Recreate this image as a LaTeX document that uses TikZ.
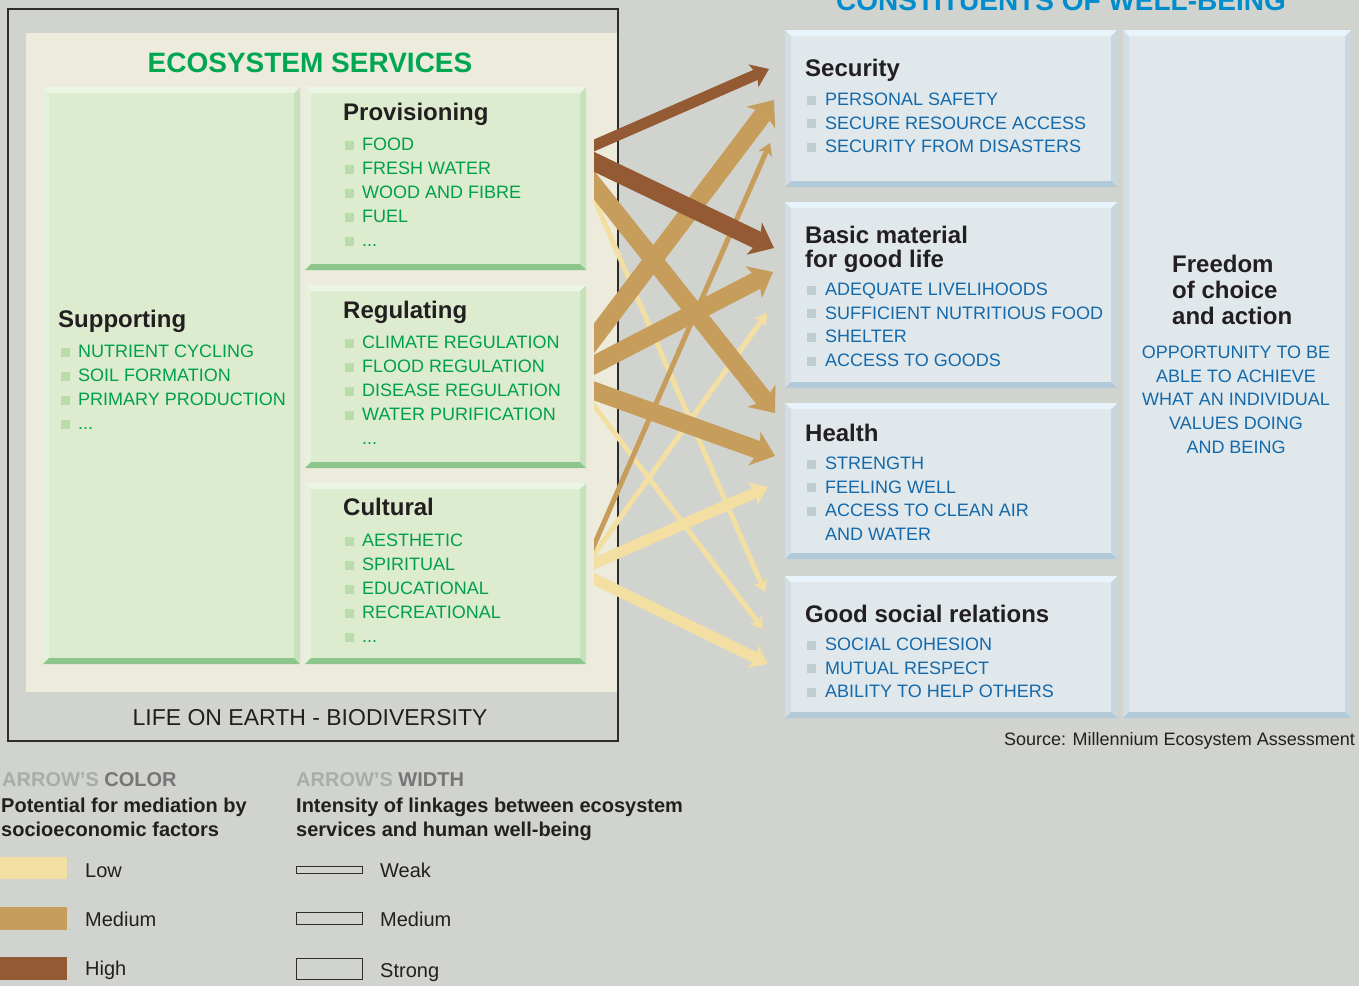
\documentclass[tikz,border=0pt]{standalone}
\usepackage{fontspec}
\setmainfont{Liberation Sans}
\usetikzlibrary{arrows.meta,positioning,calc}
\definecolor{bggray}{RGB}{209,211,207}
\definecolor{beige}{RGB}{236,235,220}
\definecolor{framegray}{RGB}{45,45,45}
\definecolor{gfill}{RGB}{221,236,207}
\definecolor{gtop}{RGB}{234,245,227}
\definecolor{gbot}{RGB}{140,198,140}
\definecolor{gleft}{RGB}{228,241,220}
\definecolor{gright}{RGB}{198,226,188}
\definecolor{gbullet}{RGB}{186,220,170}
\definecolor{gtext}{RGB}{0,160,75}
\definecolor{ecogreen}{RGB}{0,166,81}
\definecolor{bfill}{RGB}{224,232,236}
\definecolor{btop}{RGB}{232,244,251}
\definecolor{bbot}{RGB}{178,201,216}
\definecolor{bleft}{RGB}{210,222,228}
\definecolor{bright}{RGB}{200,214,222}
\definecolor{bbullet}{RGB}{190,205,210}
\definecolor{btext}{RGB}{20,105,170}
\definecolor{wbblue}{RGB}{0,140,205}
\definecolor{headtxt}{RGB}{35,31,32}
\definecolor{lowc}{RGB}{242,223,161}
\definecolor{medc}{RGB}{199,157,91}
\definecolor{highc}{RGB}{147,90,51}
\definecolor{legl}{RGB}{170,172,170}
\definecolor{legd}{RGB}{118,118,118}

\newcommand{\gsq}{\textcolor{gbullet}{\rule[1pt]{9pt}{9pt}}\hspace{8pt}}
\newcommand{\bsq}{\textcolor{bbullet}{\rule[1pt]{9pt}{9pt}}\hspace{9pt}}

\tikzset{
  bevel/.style n args={5}{draw=none, fill=#1, inner sep=0pt, outer sep=0pt, anchor=north west,
    path picture={
      \coordinate (pnw) at (path picture bounding box.north west);
      \coordinate (pne) at (path picture bounding box.north east);
      \coordinate (psw) at (path picture bounding box.south west);
      \coordinate (pse) at (path picture bounding box.south east);
      \fill[#4] (pnw) -- ([shift={(6pt,-6pt)}]pnw) -- ([shift={(6pt,6pt)}]psw) -- (psw) -- cycle;
      \fill[#5] (pne) -- ([shift={(-6pt,-6pt)}]pne) -- ([shift={(-6pt,6pt)}]pse) -- (pse) -- cycle;
      \fill[#2] (pnw) -- (pne) -- ([shift={(-6pt,-6pt)}]pne) -- ([shift={(6pt,-6pt)}]pnw) -- cycle;
      \fill[#3] (psw) -- (pse) -- ([shift={(-6pt,6pt)}]pse) -- ([shift={(6pt,6pt)}]psw) -- cycle;
    }},
}

\begin{document}
\begin{tikzpicture}[x=1pt, y=-1pt,
    gbox/.style={bevel={gfill}{gtop}{gbot}{gleft}{gright}},
    bbox/.style={bevel={bfill}{btop}{bbot}{bleft}{bright}},
    head/.style={inner sep=0pt, anchor=base west, text=headtxt, font=\fontsize{24}{24}\selectfont\bfseries},
    glist/.style={inner sep=0pt, anchor=north west, align=left, text=gtext, font=\fontsize{18}{24}\selectfont},
    blist/.style={inner sep=0pt, anchor=north west, align=left, text=btext, font=\fontsize{18}{23.6}\selectfont},
    legtxt/.style={inner sep=0pt, anchor=base west, text=headtxt, font=\fontsize{20}{24}\selectfont},
    flow/.style={line cap=butt},
    wstrong/.style={flow, line width=18pt, -{Stealth[length=22pt, width=36pt, inset=6pt, line width=0pt]}},
    wmedium/.style={flow, line width=11pt, -{Stealth[length=17pt, width=25pt, inset=4pt, line width=0pt]}},
    wweak/.style={flow, line width=5pt, -{Stealth[length=12pt, width=15pt, inset=3pt, line width=0pt]}},
    clow/.style={draw=lowc, color=lowc},
    cmed/.style={draw=medc, color=medc},
    chigh/.style={draw=highc, color=highc}
]

% Background
\useasboundingbox (0,0) rectangle (1359,986);
\fill[bggray] (0,0) rectangle (1359,986);

% === Ecosystem services ===
\fill[beige] (26,33) rectangle (617,692);
\draw[framegray, line width=2.5pt] (8,9) rectangle (618,741);
\node[inner sep=0pt, anchor=base, text=ecogreen, font=\fontsize{28}{28}\selectfont\bfseries] (ecotitle) at (310,72) {ECOSYSTEM SERVICES};

\node[gbox, minimum width=257pt, minimum height=577pt] (supp) at (43,87) {};
\node[gbox, minimum width=281pt, minimum height=183pt] (prov) at (305,87) {};
\node[gbox, minimum width=281pt, minimum height=183pt] (reg) at (305,285) {};
\node[gbox, minimum width=281pt, minimum height=181pt] (cult) at (305,483) {};

\node[head] (supph) at (58,327) {Supporting};
\node[glist] (suppl) at (61,345) {\gsq NUTRIENT CYCLING\\\gsq SOIL FORMATION\\\gsq PRIMARY PRODUCTION\\\gsq ...};

\node[head] (provh) at (343,120) {Provisioning};
\node[glist] (provl) at (345,138) {\gsq FOOD\\\gsq FRESH WATER\\\gsq WOOD AND FIBRE\\\gsq FUEL\\\gsq ...};

\node[head] (regh) at (343,318) {Regulating};
\node[glist] (regl) at (345,336) {\gsq CLIMATE REGULATION\\\gsq FLOOD REGULATION\\\gsq DISEASE REGULATION\\\gsq WATER PURIFICATION\\\hspace*{17pt}...};

\node[head] (culth) at (343,515) {Cultural};
\node[glist] (cultl) at (345,534) {\gsq AESTHETIC\\\gsq SPIRITUAL\\\gsq EDUCATIONAL\\\gsq RECREATIONAL\\\gsq ...};

\node[inner sep=0pt, anchor=base, text=headtxt, font=\fontsize{23}{23}\selectfont] (life) at (310,725) {LIFE ON EARTH - BIODIVERSITY};

% === Constituents of well-being ===
\node[inner sep=0pt, anchor=base, text=wbblue, font=\fontsize{28}{28}\selectfont\bfseries] (wbtitle) at (1061,10) {CONSTITUENTS OF WELL-BEING};

\node[bbox, minimum width=332pt, minimum height=157pt] (sec) at (785,30) {};
\node[bbox, minimum width=332pt, minimum height=186pt] (basic) at (785,202) {};
\node[bbox, minimum width=332pt, minimum height=156pt] (health) at (785,403) {};
\node[bbox, minimum width=332pt, minimum height=142pt] (social) at (785,576) {};
\node[bbox, minimum width=228pt, minimum height=688pt] (free) at (1123,30) {};

\node[head] (sech) at (805,76) {Security};
\node[blist] (secl) at (807,93) {\bsq PERSONAL SAFETY\\\bsq SECURE RESOURCE ACCESS\\\bsq SECURITY FROM DISASTERS};

\node[head, anchor=north west, align=left] (basich) at (805,225.5) {Basic material\\for good life};
\node[blist] (basicl) at (807,283) {\bsq ADEQUATE LIVELIHOODS\\\bsq SUFFICIENT NUTRITIOUS FOOD\\\bsq SHELTER\\\bsq ACCESS TO GOODS};

\node[head] (healthh) at (805,441) {Health};
\node[blist] (healthl) at (807,457) {\bsq STRENGTH\\\bsq FEELING WELL\\\bsq ACCESS TO CLEAN AIR\\\hspace*{18pt}AND WATER};

\node[head] (socialh) at (805,622) {Good social relations};
\node[blist] (sociall) at (807,638) {\bsq SOCIAL COHESION\\\bsq MUTUAL RESPECT\\\bsq ABILITY TO HELP OTHERS};

\node[head, anchor=north west, align=left, font=\fontsize{24}{26}\selectfont\bfseries] (freeh) at (1172,254.5) {Freedom\\of choice\\and action};
\node[blist, anchor=north, align=center] (freel) at (1236,346) {OPPORTUNITY TO BE\\ABLE TO ACHIEVE\\WHAT AN INDIVIDUAL\\VALUES DOING\\AND BEING};

\node[inner sep=0pt, anchor=base east, text=headtxt, font=\fontsize{18}{18}\selectfont] (src) at (1355,745) {Source: Millennium Ecosystem Assessment};

% === Linkages ===
\begin{scope}
\clip (594,0) rectangle (784,986);
% low
\draw[wweak, clow] (prov.east |- 0,180) -- ([xshift=-20pt]social.west |- 0,592);
\draw[wweak, clow] (reg.east |- 0,395) -- ([xshift=-22pt]social.west |- 0,629);
\draw[wweak, clow] (cult.east |- 0,565.5) -- ([xshift=-18pt]basic.west |- 0,313);
\draw[wmedium, clow] (cult.east |- 0,567) -- ([xshift=-17pt]health.west |- 0,487);
\draw[wmedium, clow] (cult.east |- 0,575) -- ([xshift=-17pt]social.west |- 0,664);
% medium
\draw[wweak, cmed] (cult.east |- 0,563.5) -- ([xshift=-15pt]sec.west |- 0,143);
\draw[wstrong, cmed] (reg.east |- 0,388) -- ([xshift=-10pt]health.west |- 0,456);
\draw[wstrong, cmed] (reg.east |- 0,369) -- ([xshift=-12pt]basic.west |- 0,272);
\draw[wstrong, cmed] (prov.east |- 0,175) -- ([xshift=-10pt]health.west |- 0,413);
\draw[wstrong, cmed] (reg.east |- 0,349) -- ([xshift=-11pt]sec.west |- 0,100);
% high
\draw[wmedium, chigh] (prov.east |- 0,149) -- ([xshift=-16pt]sec.west |- 0,69);
\draw[wstrong, chigh] (prov.east |- 0,158) -- ([xshift=-11pt]basic.west |- 0,248);
\end{scope}

% === Legend ===
\node[legtxt, font=\fontsize{20}{24}\selectfont\bfseries] (colhead) at (2,786) {\textcolor{legl}{ARROW’S} \textcolor{legd}{COLOR}};
\node[legtxt, font=\fontsize{20}{24}\selectfont\bfseries] (colsub1) at (1,812) {Potential for mediation by};
\node[legtxt, font=\fontsize{20}{24}\selectfont\bfseries] (colsub2) at (1,836) {socioeconomic factors};

\node[fill=lowc, inner sep=0pt, anchor=north west, minimum width=67pt, minimum height=22pt] (swlow) at (0,857) {};
\node[fill=medc, inner sep=0pt, anchor=north west, minimum width=67pt, minimum height=23pt] (swmed) at (0,907) {};
\node[fill=highc, inner sep=0pt, anchor=north west, minimum width=67pt, minimum height=23pt] (swhigh) at (0,957) {};
\node[legtxt] (txlow) at (85,877) {Low};
\node[legtxt] (txmed) at (85,926) {Medium};
\node[legtxt] (txhigh) at (85,975) {High};

\node[legtxt, font=\fontsize{20}{24}\selectfont\bfseries] (widhead) at (296,786) {\textcolor{legl}{ARROW’S} \textcolor{legd}{WIDTH}};
\node[legtxt, font=\fontsize{20}{24}\selectfont\bfseries] (widsub1) at (296,812) {Intensity of linkages between ecosystem};
\node[legtxt, font=\fontsize{20}{24}\selectfont\bfseries] (widsub2) at (296,836) {services and human well-being};

\node[draw=framegray, line width=1.2pt, inner sep=0pt, anchor=north west, minimum width=66pt, minimum height=7pt] (swweak) at (296,866) {};
\node[draw=framegray, line width=1.2pt, inner sep=0pt, anchor=north west, minimum width=66pt, minimum height=12pt] (swmid) at (296,912) {};
\node[draw=framegray, line width=1.2pt, inner sep=0pt, anchor=north west, minimum width=66pt, minimum height=21pt] (swstrong) at (296,958) {};
\node[legtxt] (txweak) at (380,877) {Weak};
\node[legtxt] (txmid) at (380,926) {Medium};
\node[legtxt] (txstrong) at (380,977) {Strong};

\end{tikzpicture}
\end{document}
